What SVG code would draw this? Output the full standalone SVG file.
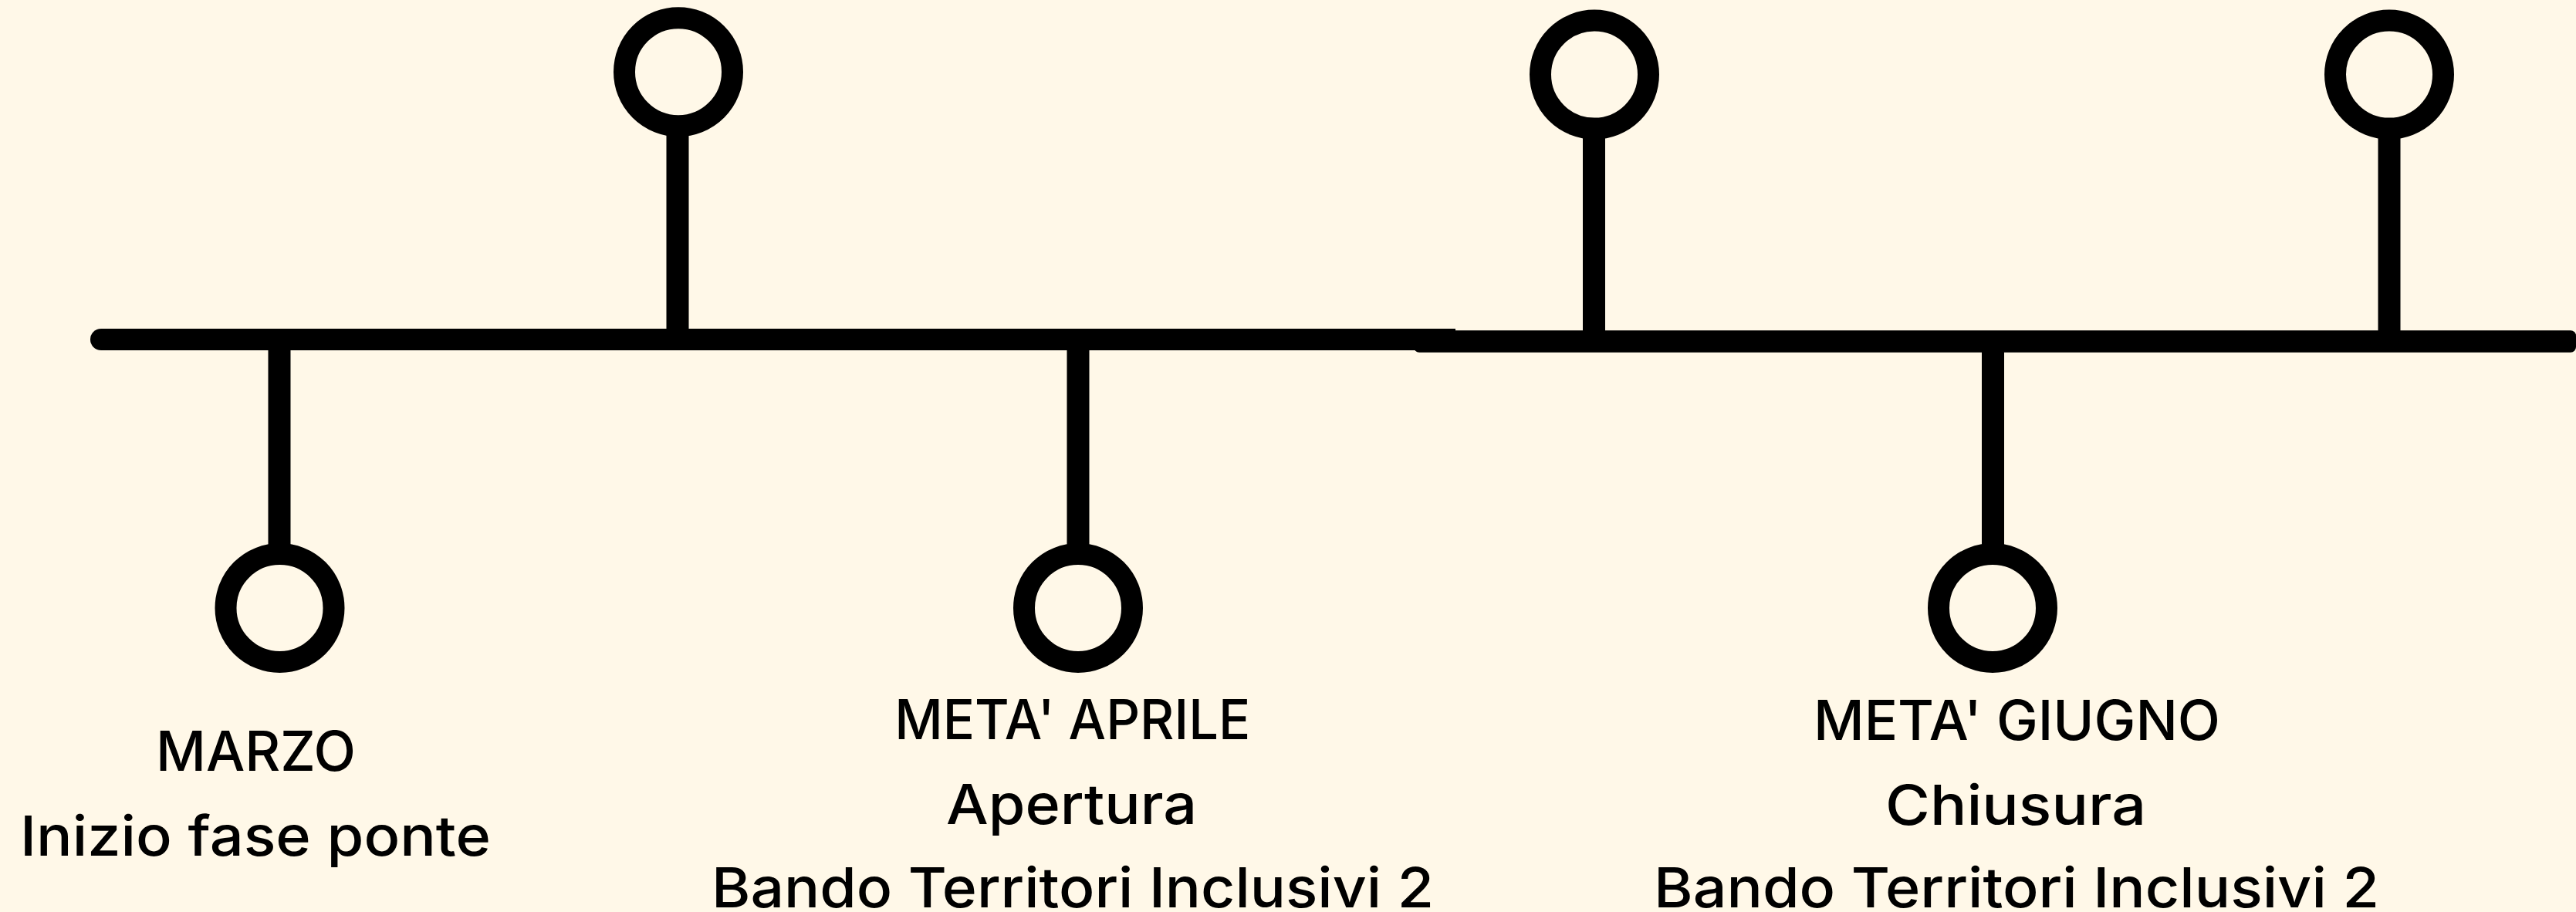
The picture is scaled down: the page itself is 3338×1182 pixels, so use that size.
<svg xmlns="http://www.w3.org/2000/svg" width="3338" height="1182" viewBox="0 0 3338 1182">
  <style>
    .ring { fill: none; stroke: #000; stroke-width: 28; }
    .stem { stroke: #000; stroke-width: 29; }
    .bar { fill: #000; }
    .lbl { font-family: Inter, "Noto Sans", "Liberation Sans", sans-serif; font-size: 72px; font-weight: 500; fill: #000; text-anchor: middle; }
  </style>
  <rect width="3338" height="1182" fill="#FFF8E8"/>
  <g id="connectors">
    <path class="bar" d="M131,426 H1886 V454 H131 A14,14 0 0 1 131,426 Z"/>
    <rect class="bar" x="1832" y="428.3" width="1506" height="28.4" rx="7"/>
    <line class="stem" x1="878" y1="160" x2="878" y2="440"/>
    <line class="stem" x1="2065.5" y1="165" x2="2065.5" y2="442"/>
    <line class="stem" x1="3096" y1="165" x2="3096" y2="442"/>
    <line class="stem" x1="362" y1="440" x2="362" y2="720"/>
    <line class="stem" x1="1397" y1="440" x2="1397" y2="720"/>
    <line class="stem" x1="2582.5" y1="442" x2="2582.5" y2="720"/>
  </g>
  <g id="node-top-1">
    <circle class="ring" cx="879" cy="93.2" r="70"/>
  </g>
  <g id="node-top-2">
    <circle class="ring" cx="2066" cy="96.6" r="70"/>
  </g>
  <g id="node-top-3">
    <circle class="ring" cx="3096" cy="96.6" r="70"/>
  </g>
  <g id="node-marzo">
    <circle class="ring" cx="362.5" cy="788" r="70"/>
    <text class="lbl" x="331.5" y="999" textLength="259" lengthAdjust="spacingAndGlyphs">MARZO</text>
    <text class="lbl" x="331" y="1108.5" textLength="610" lengthAdjust="spacingAndGlyphs">Inizio fase ponte</text>
  </g>
  <g id="node-aprile">
    <circle class="ring" cx="1397" cy="788" r="70"/>
    <text class="lbl" x="1389.7" y="958.3" textLength="461" lengthAdjust="spacingAndGlyphs">META' APRILE</text>
    <text class="lbl" x="1388.5" y="1068.3" textLength="325" lengthAdjust="spacingAndGlyphs">Apertura</text>
    <text class="lbl" x="1390" y="1176" textLength="936" lengthAdjust="spacingAndGlyphs">Bando Territori Inclusivi 2</text>
  </g>
  <g id="node-giugno">
    <circle class="ring" cx="2582" cy="788" r="70"/>
    <text class="lbl" x="2613.5" y="959" textLength="527" lengthAdjust="spacingAndGlyphs">META' GIUGNO</text>
    <text class="lbl" x="2612" y="1068.8" textLength="338" lengthAdjust="spacingAndGlyphs">Chiusura</text>
    <text class="lbl" x="2613" y="1176" textLength="940" lengthAdjust="spacingAndGlyphs">Bando Territori Inclusivi 2</text>
  </g>
</svg>
